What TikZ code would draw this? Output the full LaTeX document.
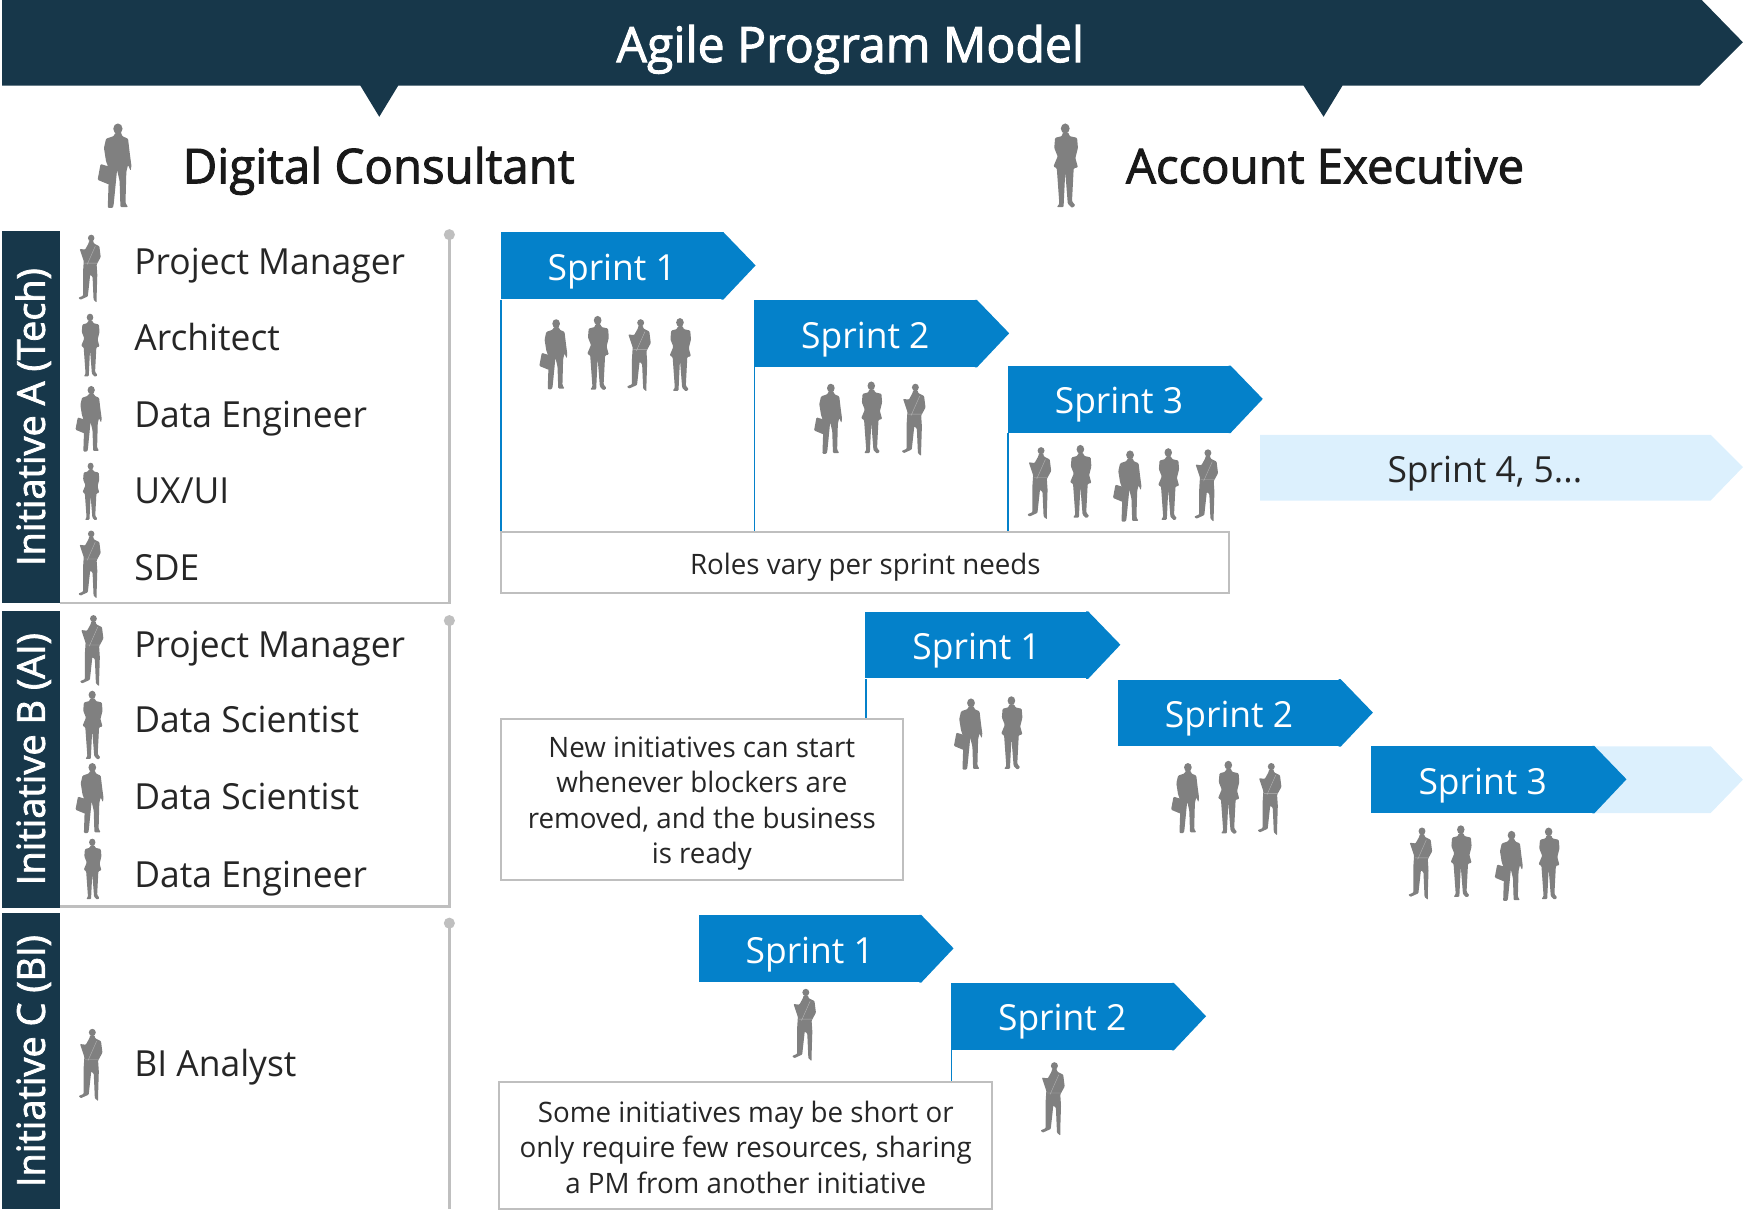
\documentclass[tikz,border=0pt]{standalone}
\usepackage{fontspec}
\setmainfont[FakeStretch=0.985]{Open Sans}
\newfontfamily\semifont[FakeStretch=0.985,FakeBold=2]{Open Sans}
\usetikzlibrary{positioning}

\definecolor{darkbar}{HTML}{17374A}
\definecolor{sprintblue}{HTML}{0481CA}
\definecolor{sprintpale}{HTML}{DCF0FD}
\definecolor{figgray}{HTML}{808080}
\definecolor{rulegray}{HTML}{BFBFBF}
\definecolor{inktext}{HTML}{262626}

\tikzset{
	sprint/.style={fill=sprintblue,text=white,minimum width=4cm,minimum height=1.2cm,inner sep=0pt,text height=14.7pt,text depth=0pt,font=\fontsize{18.4}{18.4}\selectfont},
	role/.style={anchor=west,inner sep=0pt,text=inktext,text height=13.6pt,text depth=0pt,font=\fontsize{18.4}{18.4}\selectfont},
	notebox/.style={draw=rulegray,line width=1pt,fill=white,inner sep=0pt},
	notetext/.style={inner sep=0pt,align=center,text=inktext,font=\fontsize{14.4}{18}\selectfont},
	initiative/.style={fill=darkbar,text=white,rotate=90,minimum height=1.04cm,inner sep=0pt,text height=14pt,text depth=0pt,font=\semifont\fontsize{19.7}{19.7}\selectfont},
	headline/.style={inner sep=0pt,text=black!90,text height=18pt,text depth=0pt,font=\semifont\fontsize{24.6}{24.6}\selectfont},
	bracket/.style={draw=rulegray,line width=1.3pt},
	sprintline/.style={sprintblue,line width=.8pt},
	persona/.pic={
		\fill[figgray] (0,6.3) ellipse[x radius=5.5,y radius=6.3];
		\fill[figgray,rounded corners=.5pt] (-3,11) -- (4,11) -- (5,15) -- (12,18) -- (14,35) -- (16,50) -- (15,56) -- (12,49) -- (10,57) -- (9,94) -- (12,99) -- (3,99) -- (2,68) -- (-1,55) -- (-5,96) -- (-6,100) -- (-12,100) -- (-11,70) -- (-12,50) -- (-14,45) -- (-16.5,29) -- (-14,18) -- (-5,15) -- cycle;
		\fill[figgray,rounded corners=.5pt] (-20.5,48) -- (-4,53) -- (-10,72.5) -- (-24,66.7) -- cycle;
	},
	personb/.pic={
		\fill[figgray] (-1,6) ellipse[x radius=5.2,y radius=6];
		\fill[figgray,rounded corners=.5pt] (-4,11) -- (3,11) -- (4,15) -- (13,17) -- (14,29) -- (11,41) -- (14,52) -- (9,53) -- (7,92) -- (11,97) -- (7,100) -- (2,95) -- (-1,57) -- (-3,99) -- (-11,99) -- (-8,95) -- (-11,53) -- (-15,51) -- (-10,39) -- (-14,29) -- (-13,17) -- (-5,15) -- cycle;
	},
	personc/.pic={
		\fill[figgray] (0,5) ellipse[x radius=4.8,y radius=5];
		\fill[figgray,rounded corners=.4pt] (-3,9) -- (3,9) -- (4,13) -- (12,17) -- (14,33) -- (8,44) -- (9,59) -- (8,91) -- (8,100) -- (3.5,96) -- (2,62) -- (-1.5,59) -- (-5,91) -- (-16,96) -- (-19,93) -- (-12,90) -- (-12,54) -- (-11,39) -- (-17,21) -- (-9,22) -- (-4,13) -- cycle;
		\draw[white!40!figgray,line width=.2pt] (6,17) -- (-6,44) (-10,42) -- (9,42);
	}
}

\newcommand{\sprintnode}[3]{%
	\node[sprint] (#1) at (#2) {#3};
	\fill[sprintblue] ([xshift=-1pt]#1.north east) -- (#1.north east) -- ++(29,30) -- (#1.south east) -- ([xshift=-1pt]#1.south east) -- cycle;
}

\begin{document}
\begin{tikzpicture}[x=0.02cm,y=-0.02cm]
	\useasboundingbox (0,0) rectangle (1568,1087);

	\fill[darkbar] (2,0) -- (1530,0) -- (1567,38) -- (1528,77) -- (1207,77) -- (1190,105) -- (1172,77) -- (358,77) -- (341,105) -- (324,77) -- (2,77) -- cycle; %banner
	\node[text=white,inner sep=0pt,text height=18pt,text depth=0pt,font=\semifont\fontsize{25}{25}\selectfont] (banner) at (764.5,40) {Agile Program Model};
	\node[headline,anchor=west] (consultant) at (164,149) {Digital Consultant};
	\node[headline,anchor=west] (executive) at (1012,149) {Account Executive};

	\node[initiative,minimum width=6.68cm] (initA) at (28,375) {Initiative A (Tech)};
	\node[initiative,minimum width=5.34cm] (initB) at (28,682.5) {Initiative B (AI)};
	\node[initiative,minimum width=5.32cm] (initC) at (28,954) {Initiative C (BI)};

	\draw[bracket] (54,542) -- (404,542) -- (404,211); %initiative A
	\draw[bracket] (54,815) -- (404,815) -- (404,558); %initiative B
	\draw[bracket] (404,1087) -- (404,830); %initiative C
	\fill[rulegray] (404,211) circle[radius=5];
	\fill[rulegray] (404,558) circle[radius=5];
	\fill[rulegray] (404,830) circle[radius=5];

	\foreach \n/\y/\t in {ra/235/Project Manager,rb/303/Architect,rc/372/Data Engineer,rd/441/UX\slash UI,re/510/SDE,rf/579/Project Manager,rg/647/Data Scientist,rh/716/Data Scientist,ri/786/Data Engineer,rj/956/BI Analyst}
		\node[role] (\n) at (120.5,\y) {\t};

	\fill[sprintpale] (1133,391) -- (1538,391) -- (1567,420) -- (1538,450) -- (1133,450) -- cycle; %later sprints
	\node[inner sep=0pt,text=inktext,text height=13pt,text depth=0pt,font=\fontsize{18.4}{18.4}\selectfont] (later) at (1335,422) {Sprint 4, 5...};
	\fill[sprintpale] (1433,671) -- (1538,671) -- (1567,701) -- (1538,731) -- (1433,731) -- cycle;

	\sprintnode{aone}{550,239}{Sprint 1}
	\sprintnode{atwo}{778,300}{Sprint 2}
	\sprintnode{athree}{1006,359}{Sprint 3}
	\sprintnode{bone}{878,580}{Sprint 1}
	\sprintnode{btwo}{1105,641}{Sprint 2}
	\sprintnode{bthree}{1333,701}{Sprint 3}
	\sprintnode{cone}{728,853}{Sprint 1}
	\sprintnode{ctwo}{955,914}{Sprint 2}

	\node[notebox,minimum width=13.1cm,minimum height=1.1cm] (rolesnote) at (777.5,505.5) {};
	\node[notetext,text height=10pt,text depth=0pt] (rolestext) at (778,507.5) {Roles vary per sprint needs};
	\node[notebox,minimum width=7.24cm,minimum height=2.9cm] (startnote) at (631,718.5) {};
	\node[notetext] (starttext) at (631,722.5) {New initiatives can start\\whenever blockers are\\removed, and the business\\is ready};
	\node[notebox,minimum width=8.86cm,minimum height=2.28cm] (shortnote) at (670.5,1030) {};
	\node[notetext] (shorttext) at (670.5,1031.5) {Some initiatives may be short or\\only require few resources, sharing\\a PM from another initiative};

	\draw[sprintline] ([xshift=.4pt]aone.south west) -- ([xshift=.4pt]aone.south west |- rolesnote.north);
	\draw[sprintline] ([xshift=.4pt]atwo.south west) -- ([xshift=.4pt]atwo.south west |- rolesnote.north);
	\draw[sprintline] ([xshift=.4pt]athree.south west) -- ([xshift=.4pt]athree.south west |- rolesnote.north);
	\draw[sprintline] ([xshift=.4pt]bone.south west) -- ([xshift=.4pt]bone.south west |- startnote.north);
	\draw[sprintline] ([xshift=.4pt]ctwo.south west) -- ([xshift=.4pt]ctwo.south west |- shortnote.north);

	\foreach \x/\y/\s in {106/111/.76,82/347/.59,83/686/.63,500/287/.63,747/345/.63,1016/405/.64,873/628/.64,1068/686/.63,1359/747/.63}
		\path (\x,\y) pic[scale=\s] {persona};
	\foreach \x/\y/\s in {958.5/111/.76,81.5/282/.57,82/416/.52,83.5/621/.62,83.5/754/.55,538/284/.67,612/286/.66,784/343/.65,972/400/.66,1051/403/.65,910/626/.66,1105/684/.66,1314/742/.65,1393/744/.65}
		\path (\x,\y) pic[scale=\s] {personb};
	\foreach \x/\y/\s in {82/211/.61,82/477/.61,84/553/.64,83/925/.65,576/287/.65,823/345/.65,936/402/.65,1086/404/.65,1143/686/.65,1278.5/744/.65,724.5/889/.65,948/955/.66}
		\path (\x,\y) pic[scale=\s] {personc};

\end{tikzpicture}
\end{document}
